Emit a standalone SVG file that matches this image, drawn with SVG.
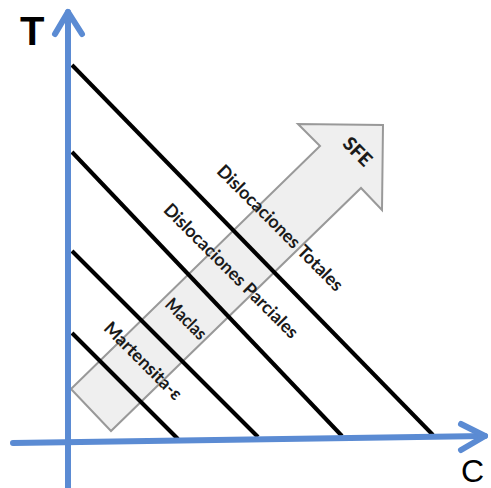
<svg xmlns="http://www.w3.org/2000/svg" width="491" height="488" viewBox="0 0 491 488">
<style>
.axis{stroke:#5B8BD3;stroke-width:6;fill:none;stroke-linecap:round;stroke-linejoin:round}
.bl{stroke:#000;stroke-width:4;fill:none}
.lbl{font-family:Lato,"Open Sans","Liberation Sans",sans-serif;font-size:18px;font-weight:700;fill:#1a1a1a;text-anchor:middle}
.big{font-family:"Liberation Sans",Arial,sans-serif;fill:#000}
</style>
<rect width="491" height="488" fill="#fff"/>
<g id="sfe-arrow">
<polygon points="71,389 320,146 298,124 383,125 382,210 361,188 111,431" fill="#efefef" stroke="#999" stroke-width="2" stroke-linejoin="miter"/>
<text class="lbl" x="357" y="158" style="font-size:19px;font-weight:900" transform="rotate(45 357 152)">SFE</text>
</g>
<g id="connectors">
<line class="bl" x1="72" y1="65" x2="433" y2="435"/>
<line class="bl" x1="72" y1="152" x2="342" y2="436"/>
<line class="bl" x1="72" y1="251" x2="258" y2="437"/>
<line class="bl" x1="72" y1="333" x2="178" y2="439"/>
</g>
<g id="axis-T">
<line class="axis" x1="68" y1="488" x2="68" y2="12"/>
<polyline class="axis" points="55,34 68,12 82,34"/>
<text class="big" x="20" y="45" font-size="40" font-weight="700">T</text>
</g>
<g id="axis-C">
<line class="axis" x1="13" y1="443" x2="485" y2="436"/>
<polyline class="axis" points="461,424 485,436 461,450"/>
<text class="big" x="461" y="482" font-size="32">C</text>
</g>
<g id="label-totales">
<text class="lbl" x="280" y="234" transform="rotate(45 280 228)" textLength="170" lengthAdjust="spacingAndGlyphs">Dislocaciones Totales</text>
</g>
<g id="label-parciales">
<text class="lbl" x="231" y="277" transform="rotate(45 231 271)" textLength="182" lengthAdjust="spacingAndGlyphs">Dislocaciones Parciales</text>
</g>
<g id="label-maclas">
<text class="lbl" x="186" y="325" transform="rotate(45 186 319)" textLength="50" lengthAdjust="spacingAndGlyphs">Maclas</text>
</g>
<g id="label-martensita">
<text class="lbl" x="143" y="367" transform="rotate(45 143 361)" textLength="102" lengthAdjust="spacingAndGlyphs">Martensita-ε</text>
</g>
</svg>
